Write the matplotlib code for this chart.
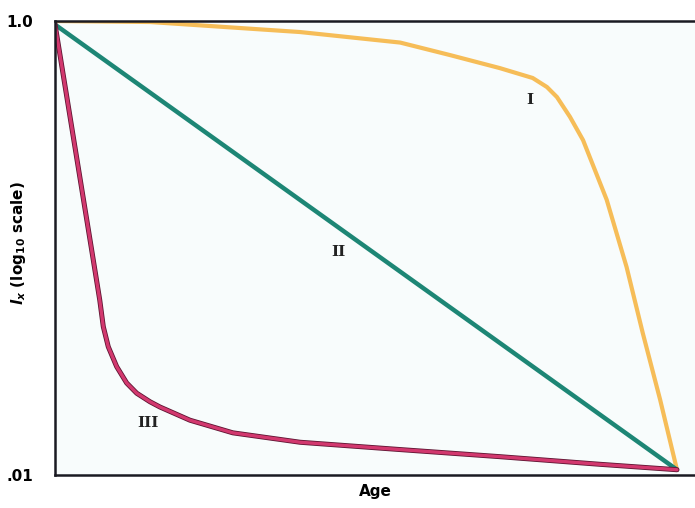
import matplotlib.pyplot as plt

plt.rcParams['mathtext.fontset'] = 'custom'
plt.rcParams['mathtext.rm'] = 'DejaVu Sans:bold'
plt.rcParams['mathtext.it'] = 'DejaVu Sans:italic:bold'

# survivorship curves, age in % of max lifespan, lx on log scale
age_I = [0, 15.3, 39.4, 55.5, 63.5, 71.5, 76.8, 79.1, 80.7, 82.8, 84.9, 88.7, 91.9, 94.5, 97.3, 100]
lx_I = [0.995, 0.985, 0.89, 0.80, 0.705, 0.618, 0.559, 0.510, 0.461, 0.377, 0.298, 0.163, 0.0825, 0.0423, 0.0215, 0.0106]

age_II = [0, 100]
lx_II = [0.96, 0.0106]

age_III = [0, 5.9, 7.2, 7.77, 8.57, 9.92, 11.53, 13.14, 15.27, 16.88, 21.7, 28.6, 39.4, 55.5, 71.5, 87.6, 100]
lx_III = [0.965, 0.098, 0.059, 0.0451, 0.0368, 0.0301, 0.0255, 0.0230, 0.0211, 0.0200, 0.0175, 0.0154, 0.0140, 0.0130, 0.0121, 0.0112, 0.0106]

curve_names = ['I', 'II', 'III']
label_age = [76.4, 45.5, 15.0]
label_lx = [0.448, 0.096, 0.017]

fig = plt.figure(figsize=(6.95, 5.08), dpi=100)
ax = fig.add_axes([0.0791, 0.064, 0.9209, 0.8956])
ax.set_facecolor('#f8fcfc')

ax.plot(age_I, lx_I, color='#f6bd58', lw=3.0, solid_capstyle='round', solid_joinstyle='round')
ax.plot(age_II, lx_II, color='#1d8675', lw=3.2, solid_capstyle='round')
ax.plot(age_III, lx_III, color='#5e1532', lw=3.6, solid_capstyle='round', solid_joinstyle='round')
ax.plot(age_III, lx_III, color='#d2386e', lw=2.4, solid_capstyle='round', solid_joinstyle='round')

for name, a, l in zip(curve_names, label_age, label_lx):
    ax.text(a, l, name, fontsize=11, fontweight='bold', family='DejaVu Serif',
            ha='center', va='center', color='#222222')

ax.set_yscale('log')
ax.set_ylim(0.01, 1.0)
ax.set_xlim(0, 102.9)
ax.set_yticks([0.01, 1.0])
ax.set_yticklabels(['.01', '1.0'], fontsize=11, fontweight='bold')
ax.minorticks_off()
ax.set_xticks([])
ax.tick_params(axis='y', length=0, pad=16)

for side in ['left', 'top', 'bottom']:
    ax.spines[side].set_linewidth(1.8)
    ax.spines[side].set_color('#1a1a22')
ax.spines['right'].set_visible(False)

ax.set_xlabel('Age', fontsize=11, fontweight='bold', labelpad=6)
ax.set_ylabel(r'$l_x$ (log$_{10}$ scale)', fontsize=11, fontweight='bold')
ax.yaxis.set_label_coords(-0.042, 0.51)

plt.savefig('out.png', dpi=100)
